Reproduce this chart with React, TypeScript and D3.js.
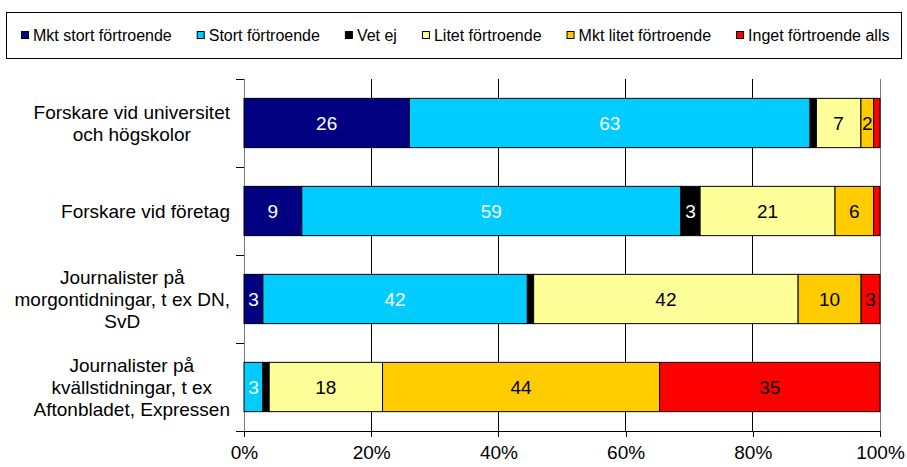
import React, { useRef, useEffect } from "react";
import * as d3 from "d3";

// categories (multi-line labels as in the original)
const categories = [
  ["Forskare vid universitet", "och högskolor"],
  ["Forskare vid företag"],
  ["Journalister på", "morgontidningar, t ex DN,", "SvD"],
  ["Journalister på", "kvällstidningar, t ex", "Aftonbladet, Expressen"],
];

const seriesNames = [
  "Mkt stort förtroende",
  "Stort förtroende",
  "Vet ej",
  "Litet förtroende",
  "Mkt litet förtroende",
  "Inget förtroende alls",
];
const seriesColors = ["#000080", "#00CCFF", "#000000", "#FFFF99", "#FFCC00", "#FF0000"];
const labelColors = ["#fff", "#fff", "#fff", "#000", "#000", "#000"];

// values per category, in percent
const mktStort = [26, 9, 3, 0];
const stort = [63, 59, 42, 3];
const vetEj = [1, 3, 1, 1];
const litet = [7, 21, 42, 18];
const mktLitet = [2, 6, 10, 44];
const inget = [1, 1, 3, 35];

const xTicks = [0, 0.2, 0.4, 0.6, 0.8, 1];

const App = () => {
  const ref = useRef(null);

  useEffect(() => {
    const svg = d3.select(ref.current);
    svg.selectAll("*").remove();

    const font = "'Liberation Sans', Arial, sans-serif";
    const margin = { top: 79, left: 244, right: 27, bottom: 36 };
    const width = 907, height = 467;

    const allSeries = [mktStort, stort, vetEj, litet, mktLitet, inget];
    const rows = categories.map((c, i) => {
      const r = { idx: i };
      allSeries.forEach((s, k) => (r[k] = s[i]));
      return r;
    });
    const keys = allSeries.map((_, k) => k);
    const stacked = d3.stack().keys(keys).offset(d3.stackOffsetExpand)(rows);

    const x = d3.scaleLinear().domain([0, 1]).range([margin.left, width - margin.right]);
    const y = d3
      .scaleBand()
      .domain(categories.map((_, i) => i))
      .range([margin.top, height - margin.bottom])
      .paddingInner(0.44)
      .paddingOuter(0.22);

    const top = margin.top, bottom = height - margin.bottom;

    // gridlines
    svg
      .append("g")
      .selectAll("line")
      .data(xTicks.filter((t) => t > 0 && t < 1))
      .enter()
      .append("line")
      .attr("x1", (d) => x(d))
      .attr("x2", (d) => x(d))
      .attr("y1", top)
      .attr("y2", bottom)
      .attr("stroke", "#000")
      .attr("shape-rendering", "crispEdges");

    // right border + left axis
    svg
      .append("line")
      .attr("x1", x(1)).attr("x2", x(1))
      .attr("y1", top).attr("y2", bottom)
      .attr("stroke", "#808080")
      .attr("shape-rendering", "crispEdges");
    svg
      .append("line")
      .attr("x1", x(0)).attr("x2", x(0))
      .attr("y1", top).attr("y2", bottom + 6)
      .attr("stroke", "#808080")
      .attr("shape-rendering", "crispEdges");

    // category ticks on the left axis
    const bounds = d3.range(categories.length + 1).map((i) => top + i * y.step());
    svg
      .append("g")
      .selectAll("line")
      .data(bounds)
      .enter()
      .append("line")
      .attr("x1", x(0) - 8)
      .attr("x2", x(0))
      .attr("y1", (d) => d)
      .attr("y2", (d) => d)
      .attr("stroke", "#000")
      .attr("shape-rendering", "crispEdges");

    // bars + labels
    stacked.forEach((layer, k) => {
      const g = svg.append("g");
      g.selectAll("rect")
        .data(layer)
        .enter()
        .append("rect")
        .attr("x", (d) => x(d[0]))
        .attr("y", (d) => y(d.data.idx))
        .attr("width", (d) => x(d[1]) - x(d[0]))
        .attr("height", y.bandwidth())
        .attr("fill", seriesColors[k])
        .attr("stroke", "#000")
        .attr("stroke-width", 1);
      g.selectAll("text")
        .data(layer.filter((d) => d.data[k] >= 2))
        .enter()
        .append("text")
        .attr("x", (d) => (x(d[0]) + x(d[1])) / 2)
        .attr("y", (d) => y(d.data.idx) + y.bandwidth() / 2)
        .attr("dy", "0.36em")
        .attr("text-anchor", "middle")
        .attr("font-family", font)
        .attr("font-size", 19)
        .attr("fill", labelColors[k])
        .text((d) => d.data[k]);
    });

    // bottom axis
    const xAxis = svg
      .append("g")
      .attr("transform", `translate(0,${bottom})`)
      .call(
        d3.axisBottom(x).tickValues(xTicks).tickFormat(d3.format(".0%")).tickSize(6).tickSizeOuter(0).tickPadding(9)
      );
    xAxis.select(".domain").attr("stroke", "#000").attr("shape-rendering", "crispEdges");
    xAxis.selectAll(".tick line").attr("stroke", "#000").attr("shape-rendering", "crispEdges");
    xAxis.selectAll("text").attr("font-family", font).attr("font-size", 19).attr("fill", "#000");

    // category labels: lines centered within a right-aligned block
    const labelRight = 230;
    const lineH = 22;
    categories.forEach((lines, i) => {
      const g = svg.append("g");
      const texts = lines.map((ln) =>
        g.append("text").attr("font-family", font).attr("font-size", 19).attr("fill", "#000").attr("text-anchor", "middle").text(ln)
      );
      const w = d3.max(texts, (t) => t.node().getComputedTextLength());
      const cx = labelRight - w / 2;
      const cy = y(i) + y.bandwidth() / 2;
      texts.forEach((t, j) => {
        t.attr("x", cx)
          .attr("y", cy + (j - (lines.length - 1) / 2) * lineH)
          .attr("dy", "0.36em");
      });
    });

    // legend
    svg
      .append("rect")
      .attr("x", 6.5)
      .attr("y", 12.5)
      .attr("width", 895)
      .attr("height", 46)
      .attr("fill", "none")
      .attr("stroke", "#000");
    let lx = 21;
    const ly = 35;
    seriesNames.forEach((name, k) => {
      const g = svg.append("g");
      g.append("rect")
        .attr("x", lx + 0.5)
        .attr("y", ly - 3.5)
        .attr("width", 7)
        .attr("height", 7)
        .attr("fill", seriesColors[k])
        .attr("stroke", "#000");
      const t = g
        .append("text")
        .attr("x", lx + 12)
        .attr("y", ly)
        .attr("dy", "0.36em")
        .attr("font-family", font)
        .attr("font-size", 16)
        .attr("fill", "#000")
        .text(name);
      lx += 12 + t.node().getComputedTextLength() + 25;
    });
  }, []);

  return (
    <svg
      ref={ref}
      width={907}
      height={467}
      style={{ position: "absolute", left: 0, top: 0, background: "#fff" }}
    />
  );
};

export default App;
